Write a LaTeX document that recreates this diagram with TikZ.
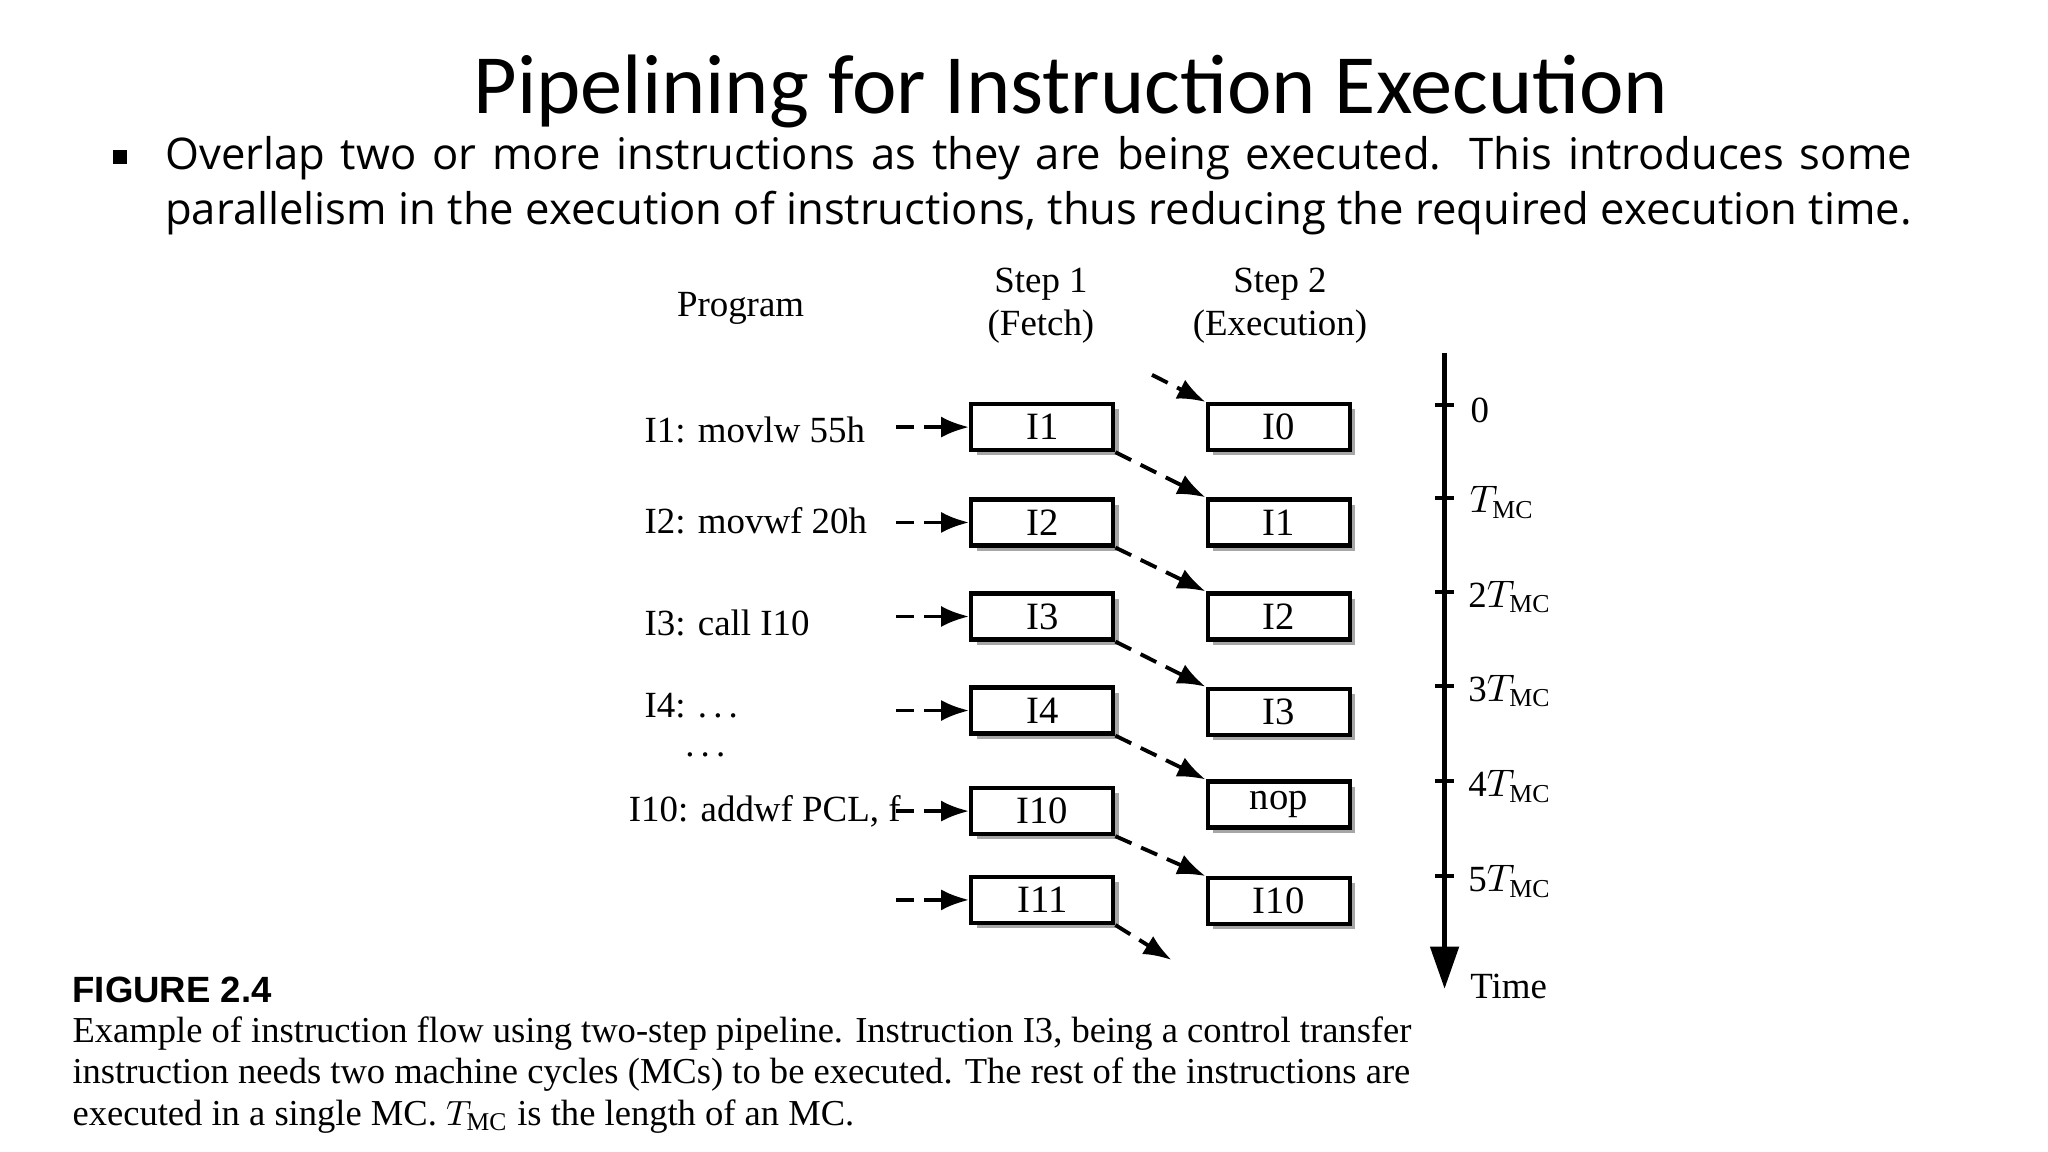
\documentclass[tikz,border=0pt]{standalone}
\usepackage{fontspec}
\setmainfont{Liberation Serif}
\newfontfamily\titlefont{Carlito}
\newfontfamily\bodyfont{Open Sans}
\newfontfamily\capsans{Liberation Sans}
\usetikzlibrary{arrows.meta,shadows}
\begin{document}
\begin{tikzpicture}[x=0.013061cm,y=-0.013061cm,
  box/.style={draw,line width=1.2pt,minimum width=1.42cm,minimum height=0.46cm,inner sep=0pt,font=\fontsize{11}{12}\selectfont,fill=white,
    general shadow={shadow xshift=1.5pt,shadow yshift=-1.5pt,fill=gray!70}},
  lbl/.style={font=\fontsize{10.5}{12}\selectfont,inner sep=0pt},
  arr/.style={-{Latex[length=8pt,width=6pt]},line width=1.1pt,dash pattern=on 5pt off 3pt},
  captext/.style={font=\fontsize{10.4}{12}\selectfont,anchor=west,inner sep=0pt}]
\useasboundingbox (0,0) rectangle (1568,882);
\node[font=\titlefont\fontsize{24}{28}\selectfont] (title) at (820,70) {Pipelining for Instruction Execution};
\node[fill=black,minimum size=4pt,inner sep=0pt] (bul) at (92,120) {};
\node[anchor=north west,text width=497pt,align=justify,inner sep=0pt,font=\bodyfont\fontsize{12.4}{15.6}\selectfont] (body) at (126,104)
 {Overlap two or more instructions as they are being executed. This introduces some parallelism in the execution of instructions, thus reducing the required execution time.};
\node[lbl] (prog) at (567,236) {Program};
\node[lbl,align=center] (s1) at (797,234) {Step 1\\(Fetch)};
\node[lbl,align=center] (s2) at (980,234) {Step 2\\(Execution)};
\foreach \n/\y/\t in {f1/327/I1,f2/400/I2,f3/472/I3,f4/544/I4,f5/621/I10,f6/689/I11}{
  \node[box] (\n) at (798,\y) {\t};
  \coordinate (s\n) at (686,\y);
  \draw[arr] (s\n) -- (\n.west);
}
\foreach \n/\y/\t in {e1/327/I0,e2/400/I1,e3/472/I2,e4/545/I3,e5/616/nop,e6/690/I10}{
  \node[box] (\n) at (979,\y) {\t};
}
\node[lbl,anchor=west] (p1) at (493,329) {I1: movlw 55h};
\node[lbl,anchor=west] (p2) at (493,399) {I2: movwf 20h};
\node[lbl,anchor=west] (p3) at (493,477) {I3: call I10};
\node[lbl,anchor=west] (p4) at (493,540) {I4: .\,.\,.};
\node[lbl] (pd) at (540,578) {.\,.\,.};
\node[lbl,anchor=west] (p5) at (481,621) {I10: addwf PCL, f};
\coordinate (c0) at (882,287);
\draw[arr] (c0) -- (e1.north west);
\draw[arr] (f1.south east) -- (e2.north west);
\draw[arr] (f2.south east) -- (e3.north west);
\draw[arr] (f3.south east) -- (e4.north west);
\draw[arr] (f4.south east) -- (e5.north west);
\draw[arr] (f5.south east) -- (e6.north west);
\coordinate (c7) at (897,735);
\draw[arr] (f6.south east) -- (c7);
\coordinate (ta) at (1106,270);
\coordinate (tb) at (1106,757);
\draw[line width=1.3pt,-{Triangle[length=12pt,width=8pt]}] (ta) -- (tb);
\foreach \y/\t/\d in {310/{0}/1133,381/{$T_{\mathrm{MC}}$}/1150,453/{2$T_{\mathrm{MC}}$}/1156,525/{3$T_{\mathrm{MC}}$}/1156,598/{4$T_{\mathrm{MC}}$}/1156,671/{5$T_{\mathrm{MC}}$}/1156}{
  \draw[line width=1.1pt] (1099,\y) -- (1113,\y);
  \node[lbl] at (\d,\y+4) {\t};
}
\node[lbl] (time) at (1155,755) {Time};
\node[captext,font=\capsans\bfseries\fontsize{10.4}{12}\selectfont] (fig) at (55,758) {FIGURE 2.4};
\node[captext] (l1) at (55,791) {Example of instruction flow using two-step pipeline. Instruction I3, being a control transfer};
\node[captext] (l2) at (55,823) {instruction needs two machine cycles (MCs) to be executed. The rest of the instructions are};
\node[captext] (l3) at (55,855) {executed in a single MC. $T_{\mathrm{MC}}$ is the length of an MC.};
\end{tikzpicture}
\end{document}
